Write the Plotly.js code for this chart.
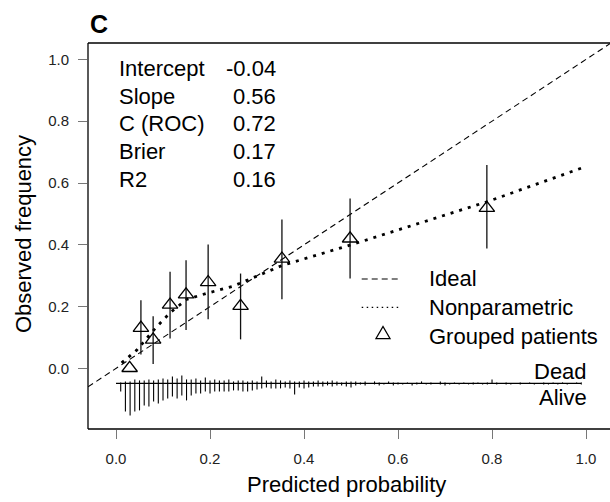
<!DOCTYPE html>
<html><head><meta charset="utf-8">
<script src="https://cdn.plot.ly/plotly-3.0.1.min.js"></script>
<style>html,body{margin:0;padding:0;background:#fff;overflow:hidden}</style>
</head><body><div id="chart" style="width:610px;height:502px"></div>
<script>
// ---- Data ----
const groupPred  = [0.029, 0.053, 0.079, 0.115, 0.149, 0.196, 0.265, 0.353, 0.498, 0.789];
const groupObs   = [0.001, 0.131, 0.093, 0.206, 0.239, 0.279, 0.202, 0.355, 0.420, 0.519];
const groupLower = [0.001, 0.045, 0.014, 0.097, 0.124, 0.159, 0.094, 0.224, 0.291, 0.388];
const groupUpper = [0.001, 0.221, 0.169, 0.313, 0.350, 0.401, 0.307, 0.482, 0.550, 0.658];

const npPred = [0.012, 0.044, 0.083, 0.115, 0.150, 0.193, 0.249, 0.353, 0.498, 0.668, 0.789, 0.990];
const npObs  = [0.018, 0.059, 0.129, 0.180, 0.223, 0.243, 0.266, 0.333, 0.399, 0.480, 0.539, 0.648];

const statLabels = ["Intercept", "Slope", "C (ROC)", "Brier", "R2"];
const statValues = ["-0.04", "0.56", "0.72", "0.17", "0.16"];

const legendLabels = ["Ideal", "Nonparametric", "Grouped patients"];
const outcomeLabels = ["Dead", "Alive"];

const xTicks = [0, 0.2, 0.4, 0.6, 0.8, 1.0];
const xTickText = ["0.0", "0.2", "0.4", "0.6", "0.8", "1.0"];
const yTicks = [0, 0.2, 0.4, 0.6, 0.8, 1.0];
const yTickText = ["0.0", "0.2", "0.4", "0.6", "0.8", "1.0"];

const predRange = [0.0, 0.99];
// risk distribution: bin centres and relative frequencies (dead above, alive below)
const rugBins = [0.01,0.02,0.03,0.04,0.05,0.06,0.07,0.08,0.09,0.10,
  0.11,0.12,0.13,0.14,0.15,0.16,0.17,0.18,0.19,0.20,
  0.21,0.22,0.23,0.24,0.25,0.26,0.27,0.28,0.29,0.30,
  0.31,0.32,0.33,0.34,0.35,0.36,0.37,0.38,0.39,0.40,
  0.41,0.42,0.43,0.44,0.45,0.46,0.47,0.48,0.49,0.50,
  0.51,0.52,0.53,0.54,0.55,0.56,0.57,0.58,0.59,0.60,
  0.61,0.62,0.63,0.64,0.65,0.66,0.67,0.68,0.69,0.70,
  0.71,0.72,0.73,0.74,0.75,0.76,0.77,0.78,0.79,0.80,
  0.81,0.82,0.83,0.84,0.85,0.86,0.87,0.88,0.89,0.90,
  0.91,0.92,0.93,0.94,0.95,0.96,0.97,0.98,0.99];
const deadFreq = [1,2,2,4,3,3,4,3,4,5,
  4,7,5,8,4,4,5,3,6,3,
  4,3,3,4,2,3,3,2,3,2,
  7,3,2,4,3,2,3,2,2,3,
  2,2,3,2,2,3,2,1,2,2,
  2,1,2,0,2,1,0,2,1,1,
  0,1,0,1,2,0,1,0,2,1,
  0,1,0,1,0,1,1,0,1,4,
  1,0,1,0,0,1,0,1,0,0,
  1,0,1,0,1,0,0,1,1];
const aliveFreq = [8,28,32,28,27,22,23,18,20,17,
  15,13,15,12,17,12,10,10,8,10,
  8,8,8,8,7,7,8,8,7,6,
  5,4,5,5,5,4,5,11,4,5,
  4,3,3,3,2,3,2,2,3,4,
  2,1,2,0,1,2,1,0,2,1,
  1,0,2,1,0,1,1,0,1,2,
  1,0,1,0,1,1,0,1,1,0,
  1,0,1,1,0,1,0,0,1,0,
  1,1,0,1,0,1,0,0,1];

// ---- Layout geometry ----
const W = 610, H = 502;
const M = {l: 88, r: 0, t: 43, b: 73};
const xRange = [-0.0596, 1.051];
const yRange = [-0.196, 1.053];
const plotW = W - M.l - M.r, plotH = H - M.t - M.b;
const px2x = px => (px - M.l) / plotW;
const py2y = py => (H - M.b - py) / plotH;
const FONT = '"Liberation Sans", Arial, Helvetica, sans-serif';
const rugBase = -0.0485;
const rugScale = 1 / 309;

// ---- Traces ----
const traces = [];
// ideal line
traces.push({x: [xRange[0], xRange[1]], y: [xRange[0], xRange[1]], mode: 'lines',
  line: {color: '#000', width: 1.1, dash: '6px,4px'}, hoverinfo: 'skip', cliponaxis: true});
// nonparametric
traces.push({x: npPred, y: npObs, mode: 'lines',
  line: {color: '#000', width: 2.8, dash: '3px,6px'}, hoverinfo: 'skip'});
// grouped patients
traces.push({x: groupPred, y: groupObs, mode: 'markers',
  marker: {symbol: 'triangle-up-open', size: 13.5, color: '#000', line: {width: 1.3, color: '#000'}},
  error_y: {type: 'data', symmetric: false,
    array: groupUpper.map((u, i) => u - groupObs[i]),
    arrayminus: groupLower.map((l, i) => groupObs[i] - l),
    width: 0, thickness: 1.3, color: '#111'}, hoverinfo: 'skip'});
// rug
const rx = [], ry = [];
rugBins.forEach((b, i) => {
  if (deadFreq[i] > 0) { rx.push(b, b, null); ry.push(rugBase, rugBase + deadFreq[i] * rugScale, null); }
  if (aliveFreq[i] > 0) { rx.push(b, b, null); ry.push(rugBase, rugBase - aliveFreq[i] * rugScale, null); }
});
rx.push(predRange[0], predRange[1], null); ry.push(rugBase, rugBase, null);
traces.push({x: rx, y: ry, mode: 'lines', line: {color: '#000', width: 1.1}, hoverinfo: 'skip', connectgaps: false});

// ---- Annotations ----
const anns = [];
function ann(text, px, py, xanchor, extra) {
  anns.push(Object.assign({text: text, xref: 'paper', yref: 'paper', x: px2x(px), y: py2y(py),
    xanchor: xanchor, yanchor: 'middle', showarrow: false,
    font: {family: FONT, size: 22, color: '#000'}}, extra || {}));
}
ann('<b>C</b>', 88, 24, 'left', {font: {family: FONT, size: 25, color: '#000'}});
const statY = [68, 96.3, 123.7, 151.3, 179.7];
statLabels.forEach((s, i) => ann(s, 117, statY[i], 'left'));
statValues.forEach((s, i) => ann(s, 277.7, statY[i], 'right'));
const legY = [278.7, 307.3, 336];
legendLabels.forEach((s, i) => ann(s, 426.7, legY[i], 'left'));
ann(outcomeLabels[0], 589, 371.7, 'right');
ann(outcomeLabels[1], 589, 397.7, 'right');
ann('Predicted probability', 346.6, 484, 'center');
ann('Observed frequency', 23, 234, 'center', {textangle: -90});

// ---- Shapes (frame + legend keys) ----
const shapes = [];
const frame = {color: '#000', width: 1.3};
shapes.push({type: 'line', xref: 'paper', yref: 'paper', x0: 0, y0: 0, x1: 0, y1: 1, line: frame});
shapes.push({type: 'line', xref: 'paper', yref: 'paper', x0: 0, y0: 1, x1: 1.01, y1: 1, line: frame});
shapes.push({type: 'line', xref: 'paper', yref: 'paper', x0: 0, y0: 0, x1: 1.01, y1: 0, line: frame});
shapes.push({type: 'line', xref: 'paper', yref: 'paper', x0: px2x(361.7), x1: px2x(400.7), y0: py2y(279), y1: py2y(279),
  line: {color: '#000', width: 1.1, dash: '6px,4px'}});
shapes.push({type: 'line', xref: 'paper', yref: 'paper', x0: px2x(361.7), x1: px2x(400.7), y0: py2y(307.3), y1: py2y(307.3),
  line: {color: '#000', width: 1.2, dash: '1.5px,3.5px'}});
(function () {
  const cx = 383, cy = 334.5, w = 14, h = 12.1;
  const p = `M ${px2x(cx - w / 2)} ${py2y(cy + h / 3)} L ${px2x(cx + w / 2)} ${py2y(cy + h / 3)} L ${px2x(cx)} ${py2y(cy - 2 * h / 3)} Z`;
  shapes.push({type: 'path', xref: 'paper', yref: 'paper', path: p, line: {color: '#000', width: 1.3}, fillcolor: 'rgba(0,0,0,0)'});
})();

const axisCommon = {showgrid: false, zeroline: false, showline: false, ticks: 'outside', ticklen: 9,
  tickwidth: 1, tickcolor: '#777', tickfont: {family: FONT, size: 15, color: '#222'}, fixedrange: true};

const layout = {
  width: W, height: H, margin: M, showlegend: false,
  paper_bgcolor: '#fff', plot_bgcolor: '#fff',
  xaxis: Object.assign({}, axisCommon, {range: xRange, tickvals: xTicks, ticktext: xTickText, ticklabelstandoff: 7}),
  yaxis: Object.assign({}, axisCommon, {range: yRange, tickvals: yTicks, ticktext: yTickText, ticklabelstandoff: 6}),
  annotations: anns, shapes: shapes
};
Plotly.newPlot('chart', traces, layout, {staticPlot: true, displayModeBar: false});
</script></body></html>
